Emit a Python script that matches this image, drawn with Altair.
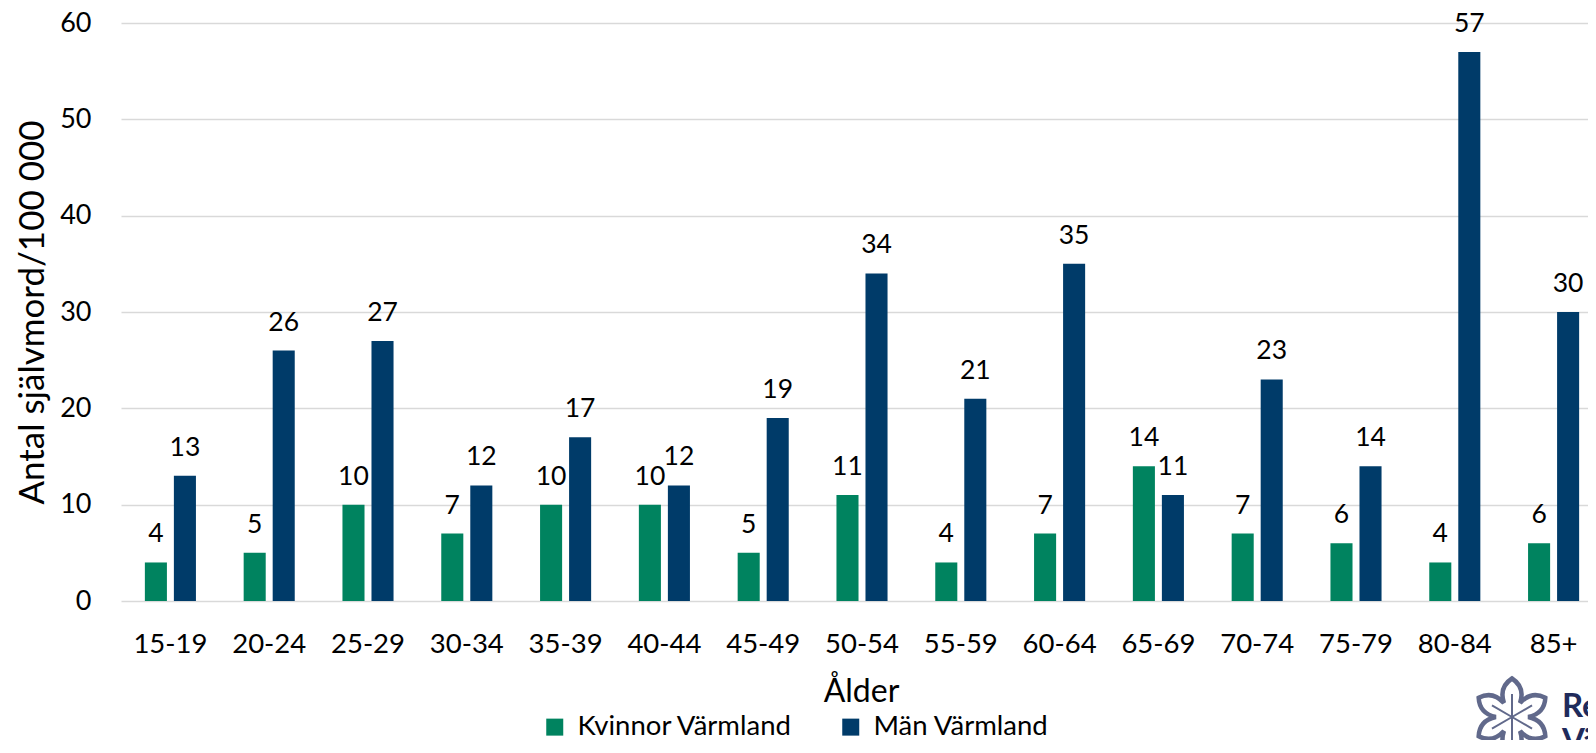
import math
import altair as alt
import pandas as pd

ages = ["15-19", "20-24", "25-29", "30-34", "35-39", "40-44", "45-49", "50-54",
        "55-59", "60-64", "65-69", "70-74", "75-79", "80-84", "85+"]
kvinnor = [4, 5, 10, 7, 10, 10, 5, 11, 4, 7, 14, 7, 6, 4, 6]
man = [13, 26, 27, 12, 17, 12, 19, 34, 21, 35, 11, 23, 14, 57, 30]
series = ["Kvinnor Värmland", "Män Värmland"]
colors = ["#00835F", "#003B69"]
y_ticks = [0, 10, 20, 30, 40, 50, 60]
logo_words = ["Region", "Värmland"]

rows = []
for a, k, m in zip(ages, kvinnor, man):
    rows.append({"alder": a, "serie": series[0], "varde": k})
    rows.append({"alder": a, "serie": series[1], "varde": m})
df = pd.DataFrame(rows)

FONT = "Lato"
NAVY = "#1f2b5b"


def fmt(v):
    return f"{v:.3f}".rstrip("0").rstrip(".")


# flower outline shape for the logo (unit box -1..1)
parts = []
for k in range(6):
    th = math.radians(-90 + 60 * k)
    a0 = th - math.radians(30)
    a1 = th + math.radians(30)
    n0 = (0.42 * math.cos(a0), 0.42 * math.sin(a0))
    n1 = (0.42 * math.cos(a1), 0.42 * math.sin(a1))
    tip = (math.cos(th), math.sin(th))
    c0 = (0.85 * math.cos(th - math.radians(24)), 0.85 * math.sin(th - math.radians(24)))
    c1 = (0.85 * math.cos(th + math.radians(24)), 0.85 * math.sin(th + math.radians(24)))
    if k == 0:
        parts.append(f"M{fmt(n0[0])},{fmt(n0[1])}")
    parts.append(f"Q{fmt(c0[0])},{fmt(c0[1])} {fmt(tip[0])},{fmt(tip[1])}")
    parts.append(f"Q{fmt(c1[0])},{fmt(c1[1])} {fmt(n1[0])},{fmt(n1[1])}")
flower_path = "".join(parts) + "Z"

spokes = []
for k in range(6):
    th = math.radians(-90 + 60 * k)
    spokes.append(f"M0,0L{fmt(0.6 * math.cos(th))},{fmt(0.6 * math.sin(th))}")
spoke_path = "".join(spokes)

base = alt.Chart(df).encode(
    x=alt.X("alder:N", sort=ages,
            scale=alt.Scale(range=[0, 1482], paddingInner=0.483, paddingOuter=0.2415),
            axis=alt.Axis(title="Ålder", labelAngle=0, labelFontSize=27.5,
                          labelPadding=29, ticks=False, domain=False, grid=False,
                          titleFontSize=32, titlePadding=19, titleX=740)),
    xOffset=alt.XOffset("serie:N", sort=series,
                        scale=alt.Scale(paddingInner=0.24, paddingOuter=0)),
    y=alt.Y("varde:Q",
            scale=alt.Scale(domain=[0, 60], nice=False),
            axis=alt.Axis(values=y_ticks, title="Antal självmord/100 000",
                          labelFontSize=27, labelPadding=30, ticks=False,
                          domain=False, gridColor="#d9d9d9", gridWidth=1.6,
                          titleFontSize=35, titlePadding=9)),
)

bars = base.mark_bar().encode(
    color=alt.Color("serie:N", sort=series,
                    scale=alt.Scale(domain=series, range=colors),
                    legend=alt.Legend(orient="none", legendX=420, legendY=690,
                                      direction="horizontal", title=None,
                                      symbolType="square", symbolSize=289,
                                      symbolStrokeWidth=0, labelFontSize=27.5,
                                      labelFont=FONT, labelColor="black",
                                      labelLimit=0, labelOffset=9,
                                      columnPadding=44, padding=0))
)

labels = base.mark_text(baseline="alphabetic", dy=-20, fontSize=26.5, font=FONT,
                        color="black").encode(text="varde:Q")

logo_df = pd.DataFrame({"t": logo_words})
logo_flower = alt.Chart(logo_df.head(1)).mark_point(
    shape=flower_path, size=5929, filled=False, stroke=NAVY, strokeWidth=4.5
).encode(x=alt.value(1391), y=alt.value(694))
logo_spokes = alt.Chart(logo_df.head(1)).mark_point(
    shape=spoke_path, size=5929, filled=False, stroke=NAVY, strokeWidth=2
).encode(x=alt.value(1391), y=alt.value(694))
logo_t1 = alt.Chart(logo_df.head(1)).mark_text(
    align="left", baseline="alphabetic", font=FONT, fontWeight="bold",
    fontSize=33, color=NAVY
).encode(x=alt.value(1441), y=alt.value(694), text="t:N")
logo_t2 = alt.Chart(logo_df.tail(1)).mark_text(
    align="left", baseline="alphabetic", font=FONT, fontWeight="bold",
    fontSize=33, color=NAVY
).encode(x=alt.value(1441), y=alt.value(729), text="t:N")

chart = alt.layer(bars, labels, logo_flower, logo_spokes, logo_t1, logo_t2).properties(
    width=1467, height=578,
    padding={"left": 113, "top": 15, "right": 0, "bottom": 139},
    autosize=alt.AutoSizeParams(type="none"),
).configure_view(stroke=None).configure_axis(
    labelFont=FONT, titleFont=FONT, labelColor="black", titleColor="black",
    titleFontWeight="normal"
)

chart.save("out.html", embed_options={"renderer": "svg", "actions": False})
